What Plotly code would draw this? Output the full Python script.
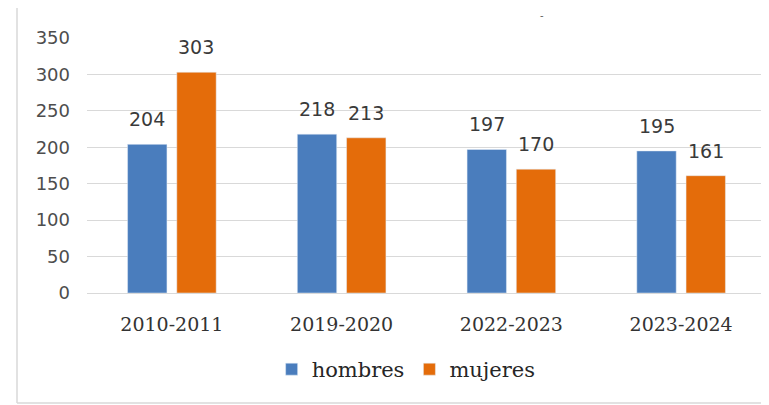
import plotly.graph_objects as go

categories = ["2010-2011", "2019-2020", "2022-2023", "2023-2024"]
hombres = [204, 218, 197, 195]
mujeres = [303, 213, 170, 161]
y_ticks = [0, 50, 100, 150, 200, 250, 300, 350]

BLUE = "#4a7dbd"
ORANGE = "#e46c0a"

fig = go.Figure()
fig.add_trace(go.Bar(name="hombres", x=categories, y=hombres, marker_color=BLUE))
fig.add_trace(go.Bar(name="mujeres", x=categories, y=mujeres, marker_color=ORANGE))

bargap = 0.42
groupgap = 0.2
slot = (1 - bargap) / 2
annotations = []
for i, cat in enumerate(categories):
    for off, vals in ((-slot / 2, hombres), (slot / 2, mujeres)):
        annotations.append(dict(
            x=i + off, y=vals[i], xref="x", yref="y", text=str(vals[i]),
            showarrow=False, yanchor="bottom", yshift=12,
            font=dict(family="DejaVu Sans", size=19, color="#3a3a3a")))
annotations.append(dict(x=(543 - 87) / 679, y=(293 - 6) / 255, xref="paper", yref="paper",
                        text="-", showarrow=False, xshift=3, yshift=1,
                        font=dict(size=11, color="#555555")))

# page has an 8px body margin, so the figure is offset by 8px
fig.update_layout(
    width=761, height=397,
    margin=dict(l=79, r=3, t=30, b=112, autoexpand=False),
    paper_bgcolor="white", plot_bgcolor="white",
    barmode="group", bargap=bargap, bargroupgap=groupgap,
    showlegend=True,
    legend=dict(orientation="h", x=0.47, xanchor="center", y=-0.30, yanchor="middle",
                font=dict(family="DejaVu Serif", size=21, color="#262626"),
                tracegroupgap=0),
    annotations=annotations,
    shapes=[
        dict(type="line", xref="paper", yref="paper", x0=(17 - 87) / 679, x1=(17 - 87) / 679,
             y0=(293 - 403) / 255, y1=1.2, line=dict(color="#d9d9d9", width=1.5)),
        dict(type="line", xref="paper", yref="paper", x0=(17 - 87) / 679, x1=1.01,
             y0=(293 - 403) / 255, y1=(293 - 403) / 255, line=dict(color="#d9d9d9", width=1.5)),
    ],
)
fig.update_yaxes(range=[0, 350], tickvals=y_ticks, showgrid=True, gridcolor="#d9d9d9",
                 gridwidth=1, zeroline=False, showline=False, automargin=False,
                 tickfont=dict(family="DejaVu Sans", size=18, color="#4d4d4d"),
                 ticklabelstandoff=16)
fig.update_xaxes(showline=True, linecolor="#d9d9d9", linewidth=1, automargin=False,
                 tickfont=dict(family="DejaVu Serif", size=19, color="#333333"),
                 ticklabelstandoff=14)

fig.write_html("out.html")
